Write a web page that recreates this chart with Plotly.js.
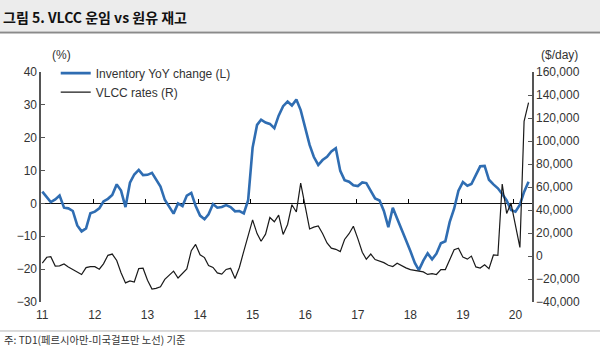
<!DOCTYPE html>
<html>
<head>
<meta charset="utf-8">
<script src="https://cdn.plot.ly/plotly-3.0.1.min.js"></script>
<style>
html,body{margin:0;padding:0;background:#fff;}
#chart{width:600px;height:351px;}
</style>
</head>
<body>
<div id="chart"></div>
<script>
// Monthly series, Jan 2011 .. Apr 2020
var startYear = 2011;
var inventoryYoY = [
  3.6, 1.9, 0.4, 1.2, 2.4, -1.3, -1.5, -2.3, -6.7, -8.5, -7.6, -3.0,
  -2.5, -1.5, 0.6, 1.4, 2.6, 5.8, 3.9, -1.1, 6.3, 8.8, 10.2, 8.6,
  8.7, 9.3, 7.4, 5.1, 1.1, -0.9, -3.1, 0.0, -0.8, 2.4, 3.2, -0.7,
  -3.7, -4.8, -3.3, -0.2, -1.3, -1.1, -0.5, -1.1, -2.4, -2.3, -3.0, 1.0,
  17.0, 23.9, 25.5, 24.6, 24.2, 22.9, 26.7, 29.6, 31.0, 29.8, 31.6, 28.4,
  23.2, 17.8, 14.2, 11.7, 13.2, 14.2, 15.8, 16.8, 9.9, 7.1, 6.6, 5.5,
  5.3, 6.4, 6.2, 3.6, 1.5, 0.9, -2.3, -7.2, -1.3, -4.6, -7.7, -11.1,
  -14.5, -18.1, -20.3, -17.4, -15.2, -17.0, -15.3, -12.1, -11.5, -5.7, -1.6, 3.9,
  6.5, 5.4, 5.9, 8.5, 11.3, 11.4, 7.2, 5.8, 4.6, 2.9, 0.9, -2.0,
  -2.5, -0.4, 3.5, 6.6
];
var vlccRates = [
  -6200, -1100, -600, -8800, -8600, -7000, -9600, -12000, -14200, -16100, -10100, -9200,
  -9300, -11500, -6800, 600, 1700, -3900, -14600, -23400, -21600, -22600, -10900, -10600,
  -21100, -28700, -28200, -26700, -20300, -16500, -13200, -19100, -15500, -11300, 4600, 10100,
  1100, -1400, -8200, -10000, -14700, -15700, -11700, -10700, -19500, -10000, 4300, 18700,
  31400, 19500, 12800, 19000, 33500, 29800, 35600, 18800, 27400, 44600, 38300, 63300,
  44000, 23500, 25100, 26200, 19500, 11400, 6800, 5800, 3800, 14400, 19400, 25900,
  15100, 3300, -2800, 1700, -3100, -4200, -5800, -8000, -9200, -6300, -8500, -10300,
  -11800, -12500, -13000, -13800, -16000, -15300, -16100, -11800, -11800, -3800, 5400, 6800,
  -1000, -2700, -100, -9500, -10500, -7700, -11000, 900, 500, 62600, 37000, 46000,
  27000, 7400, 117000, 133300
];
var yearTickLabels = ['11','12','13','14','15','16','17','18','19','20'];

function pad(n){return (n<10?'0':'')+n;}
var months = [];
for (var i = 0; i < inventoryYoY.length; i++) {
  var y = startYear + Math.floor(i/12), m = (i%12)+1;
  months.push(y + '-' + pad(m) + '-01');
}
var yearTicks = yearTickLabels.map(function(t){return '20'+t+'-01-01';});
var yearMarks = yearTickLabels.map(function(t){return (2000+parseInt(t,10)-1)+'-12-20';});

var xRange = ['2010-12-23', '2020-04-25'];
var tickFont = {family:'Liberation Sans, Arial, sans-serif', size:12, color:'#333'};

var traces = [
  {x: months, y: inventoryYoY, type:'scatter', mode:'lines', name:'Inventory YoY change (L)',
   line:{color:'#2f6db2', width:2.6}, yaxis:'y'},
  {x: months, y: vlccRates, type:'scatter', mode:'lines', name:'VLCC rates (R)',
   line:{color:'#1a1a1a', width:1.2}, yaxis:'y2'},
  {x: [], y: [], xaxis:'x2', yaxis:'y', showlegend:false, hoverinfo:'skip', type:'scatter'}
];

var layout = {
  width:600, height:351,
  margin:{l:41, r:68, t:72, b:49, pad:0},
  paper_bgcolor:'#fff', plot_bgcolor:'rgba(0,0,0,0)',
  font: tickFont,
  showlegend:true,
  legend:{x:0.03, y:1.058, xanchor:'left', yanchor:'top', bgcolor:'rgba(0,0,0,0)',
          font:{family:'Liberation Sans, Arial, sans-serif', size:12, color:'#333'},
          tracegroupgap:0, itemwidth:30},
  title:{text:'<b>그림 5. VLCC 운임 vs 원유 재고</b>', xref:'container', yref:'container',
         x:0.005, xanchor:'left', y:0.948, yanchor:'middle',
         font:{family:'Noto Sans CJK KR', size:14, color:'#111'}},
  xaxis:{type:'date', range:xRange, tickvals:yearTicks, ticktext:yearTickLabels,
         ticks:'', showline:false, showgrid:false, zeroline:false, tickfont:tickFont,
         ticklabelstandoff:4},
  xaxis2:{type:'date', range:xRange, overlaying:'x', anchor:'free', position:3/7, side:'top',
          tickvals:yearMarks, showticklabels:false, ticks:'outside', ticklen:4, tickwidth:1,
          tickcolor:'#000', showline:false, showgrid:false, zeroline:false},
  yaxis:{range:[-30,40], dtick:10, showline:true, linecolor:'#555', linewidth:1.6,
         ticks:'inside', ticklen:4, tickcolor:'#555', showgrid:false,
         zeroline:true, zerolinecolor:'#111', zerolinewidth:1.3, tickfont:tickFont},
  yaxis2:{range:[-40000,160000], dtick:20000, overlaying:'y', side:'right', tickformat:',d',
          showline:true, linecolor:'#555', linewidth:1.6, ticks:'inside', ticklen:4,
          tickcolor:'#555', showgrid:false, zeroline:false, tickfont:tickFont},
  annotations:[
    {text:'(%)', xref:'paper', yref:'paper', x:0.042, y:1.074, showarrow:false,
     xanchor:'center', yanchor:'middle', font:tickFont},
    {text:'($/day)', xref:'paper', yref:'paper', x:1.055, y:1.074, showarrow:false,
     xanchor:'center', yanchor:'middle', font:tickFont},
    {text:'주: TD1(페르시아만-미국걸프만 노선) 기준', xref:'paper', yref:'paper',
     x:-0.08, y:-0.165, xanchor:'left', yanchor:'middle', showarrow:false,
     font:{family:'Noto Sans CJK KR', size:10.3, color:'#333'}}
  ],
  shapes:[
    {type:'rect', xref:'paper', yref:'paper', x0:-0.2, x1:1.3, y0:1.178, y1:1.45,
     fillcolor:'#ececec', line:{width:0}, layer:'below'},
    {type:'line', xref:'paper', yref:'paper', x0:-0.2, x1:1.3, y0:1.1717, y1:1.1717,
     line:{color:'#8a8a8a', width:2}},
    {type:'line', xref:'paper', yref:'paper', x0:-0.2, x1:1.3, y0:-0.126, y1:-0.126,
     line:{color:'#b5b5b5', width:1}}
  ]
};

Plotly.newPlot('chart', traces, layout, {staticPlot:true, displayModeBar:false});
</script>
</body>
</html>
